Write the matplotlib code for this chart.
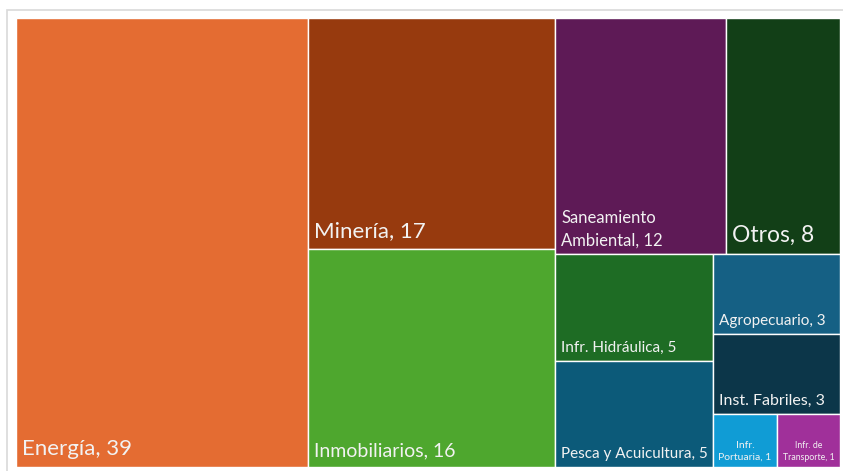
import matplotlib
matplotlib.use("Agg")
import matplotlib.pyplot as plt
from matplotlib.patches import Rectangle

labels = ["Energía, 39", "Minería, 17", "Inmobiliarios, 16", "Saneamiento\nAmbiental, 12",
          "Otros, 8", "Infr. Hidráulica, 5", "Pesca y Acuicultura, 5", "Agropecuario, 3",
          "Inst. Fabriles, 3", "Infr.\nPortuaria, 1", "Infr. de\nTransporte, 1"]
values = [39, 17, 16, 12, 8, 5, 5, 3, 3, 1, 1]
colors = ["#E46C32", "#973A0E", "#4EA72E", "#5E1A56", "#123F17", "#1E6C24",
          "#0C5A79", "#156084", "#0C3649", "#109CD5", "#A0309A"]
font_sizes = [16, 16, 14, 12, 16.5, 11, 11, 11, 11.5, 7.5, 6.3]

# nesting of the treemap (slice direction, children by index)
structure = ("h", [0, ("v", [1, 2]),
                   ("v", [("h", [3, 4]),
                          ("h", [("v", [5, 6]), ("v", [7, 8, ("h", [9, 10])])])])])

W, H = 824, 449

def total(node):
    if isinstance(node, int):
        return values[node]
    return sum(total(c) for c in node[1])

rects = {}
def layout(node, x, y, w, h):
    if isinstance(node, int):
        rects[node] = (x, y, w, h)
        return
    d, kids = node
    s = total(node)
    pos = 0.0
    for k in kids:
        frac = total(k) / s
        if d == "h":
            layout(k, x + pos * w, y, frac * w, h)
        else:
            layout(k, x, y + pos * h, w, frac * h)
        pos += frac

layout(structure, 0, 0, W, H)

fig = plt.figure(figsize=(8.43, 4.71), dpi=100)
bg = fig.add_axes([0, 0, 1, 1], zorder=-5)
bg.set_xlim(0, 843)
bg.set_ylim(471, 0)
bg.axis("off")
bg.add_patch(Rectangle((7, 10), 900, 500, facecolor="white", edgecolor="#D9D9D9", linewidth=1.2))

ax = fig.add_axes([16 / 843, 4 / 471, W / 843, H / 471])
ax.set_xlim(0, W)
ax.set_ylim(H, 0)
ax.axis("off")

for i in range(len(values)):
    x, y, w, h = rects[i]
    ax.add_patch(Rectangle((x, y), w, h, facecolor=colors[i], edgecolor="white", linewidth=1.0))
    if i in (9, 10):
        ax.text(x + w / 2, y + h - 5, labels[i], ha="center", va="bottom", color="#F2F2F2",
                fontsize=font_sizes[i], family="Lato", linespacing=1.5)
    else:
        pad = 8 if font_sizes[i] >= 14 else 6
        ax.text(x + 6, y + h - pad, labels[i], ha="left", va="bottom", color="#F2F2F2",
                fontsize=font_sizes[i], family="Lato", linespacing=1.5)

fig.savefig("out.png", dpi=100)
